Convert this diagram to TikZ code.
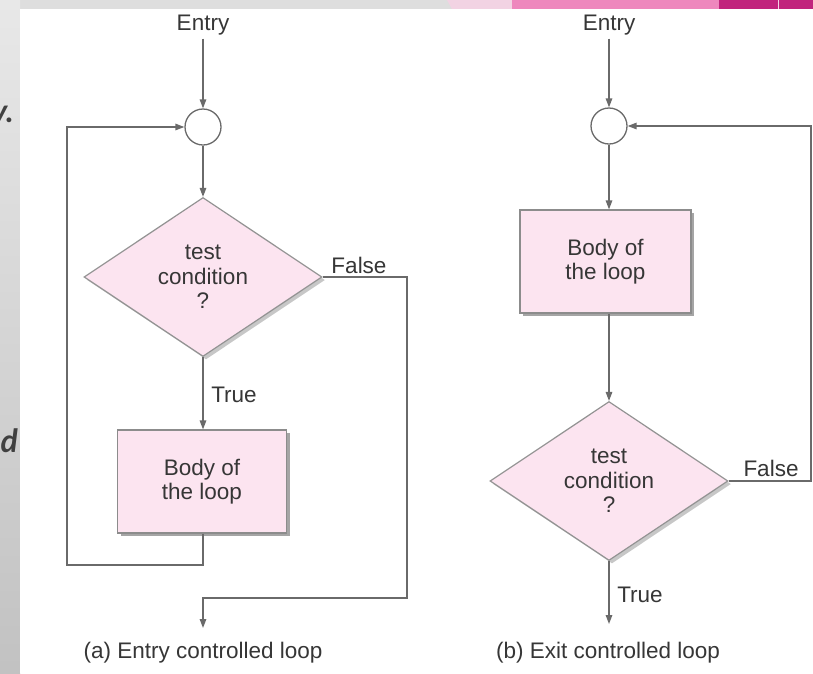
\documentclass[tikz,border=0pt]{standalone}
\usepackage{fontspec}
\setmainfont{Liberation Sans}
\newfontfamily\slidefont{Lato}
\usetikzlibrary{shapes.geometric,arrows.meta,shadows}
\definecolor{boxpink}{HTML}{FCE4F0}
\definecolor{linegray}{HTML}{6A6A6A}
\definecolor{txtgray}{HTML}{363636}
\definecolor{stripgray}{HTML}{DEDEDE}
\definecolor{lightpk}{HTML}{F2D3E3}
\definecolor{midpk}{HTML}{EE87BD}
\definecolor{magpk}{HTML}{C1247D}
\definecolor{slidetxt}{HTML}{404040}
\begin{document}
\begin{tikzpicture}[x=1pt,y=-1pt,
  txt/.style={font=\fontsize{22.5}{24.5}\selectfont, text=txtgray},
  lbl/.style={txt, inner sep=1pt},
  junction/.style={circle, draw=linegray, line width=1.3pt, fill=white, minimum size=36pt, inner sep=0pt},
  decision/.style={diamond, aspect=1.5, draw=gray!85, line width=1.2pt, fill=boxpink, minimum width=238pt, minimum height=159pt, inner sep=0pt, align=center, txt,
     drop shadow={shadow xshift=3pt, shadow yshift=-3pt, opacity=0.22, fill=black}},
  process/.style={rectangle, draw=gray!90, line width=1.2pt, fill=boxpink, minimum width=169pt, minimum height=103pt, align=center, txt,
     drop shadow={shadow xshift=3pt, shadow yshift=-3pt, opacity=0.5, fill=black!70}},
  flow/.style={draw=linegray, line width=1.4pt, -{Triangle[length=9pt,width=6.5pt]}},
  slide/.style={font=\slidefont\bfseries\itshape\fontsize{32}{32}\selectfont, text=slidetxt, inner sep=0pt},
]
\useasboundingbox (0,0) rectangle (813,673);
% slide background
\fill[stripgray] (0,0) rectangle (813,9);
\shade[top color=gray!18, bottom color=gray!48] (0,0) rectangle (20,673);
\fill[lightpk] (447,0) -- (512,0) -- (512,9) -- (452,9) -- cycle;
\fill[midpk] (512,0) rectangle (719,9);
\fill[magpk] (719,0) rectangle (813,9);
\draw[white!80!magpk, line width=0.6pt] (778,0) -- (778,9);
\begin{scope}
\clip (0,0) rectangle (20,673);
\node[slide, anchor=base east] (slideY) at (14,122) {y.};
\node[slide, anchor=base east] (slideD) at (18,452) {d};
\end{scope}
\fill[white] (20,9) rectangle (813,673);

% (a) entry controlled loop
\node[txt] (entryA) at (203,25) {Entry};
\node[junction] (circA) at (203,127) {};
\node[decision] (diaA) at (203,277) {test\\condition\\?};
\node[process] (bodyA) at (202,481.5) {Body of\\the loop};
\node[lbl] (falseA) at (359,265) {False};
\node[lbl] (trueA) at (234,395) {True};
\node[txt] (capA) at (203,653) {(a) Entry controlled loop};
\coordinate (loopA) at (67,565);
\coordinate (fA) at (407,598);
\coordinate (exitA) at (203,628);

\draw[flow] (entryA) -- (circA);
\draw[flow] (circA) -- (diaA);
\draw[flow] (diaA.south) -- (diaA.south |- bodyA.north);
\draw[flow] (diaA.south |- bodyA.south) |- (loopA) |- (circA.west);
\draw[flow] (diaA.east) -| (fA) -| (exitA);

% (b) exit controlled loop
\node[txt] (entryB) at (609,25) {Entry};
\node[junction] (circB) at (609,126) {};
\node[process, minimum width=171pt] (bodyB) at (605.5,261.5) {Body of\\the loop};
\node[decision] (diaB) at (609,481) {test\\condition\\?};
\node[lbl] (falseB) at (771,468) {False};
\node[lbl] (trueB) at (640,595) {True};
\node[txt] (capB) at (608,653) {(b) Exit controlled loop};
\coordinate (loopB) at (811,481);
\coordinate (exitB) at (609,624);

\draw[flow] (entryB) -- (circB);
\draw[flow] (circB.south) -- (circB.south |- bodyB.north);
\draw[flow] (circB.south |- bodyB.south) -- (diaB.north);
\draw[flow] (diaB.east) -| (loopB) |- (circB.east);
\draw[flow] (diaB.south) -- (exitB);
\end{tikzpicture}
\end{document}
